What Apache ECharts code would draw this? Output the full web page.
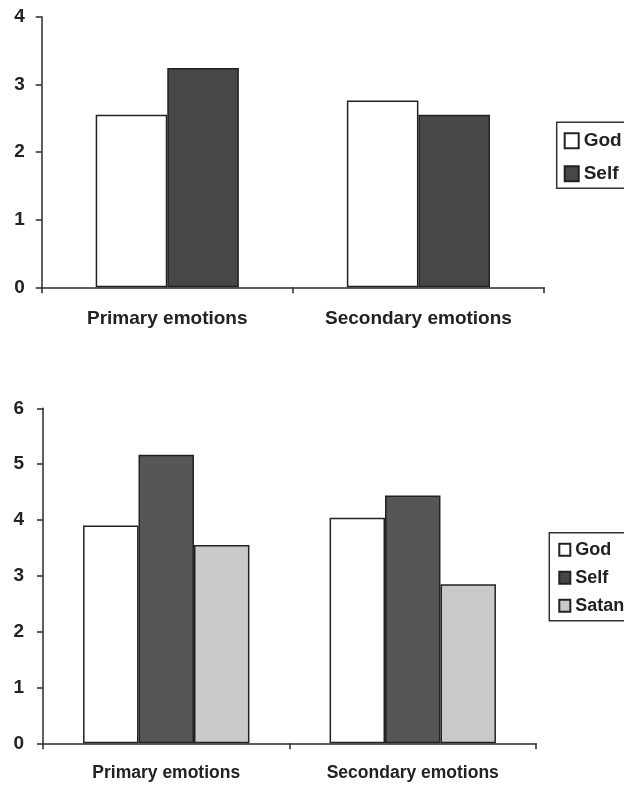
<!DOCTYPE html>
<html>
<head>
<meta charset="utf-8">
<script src="https://cdn.jsdelivr.net/npm/echarts@6/dist/echarts.min.js"></script>
<style>html,body{margin:0;padding:0;background:#fff}#c{width:624px;height:785px}</style>
</head>
<body>
<div id="c"></div>
<script>
const categories = ['Primary emotions', 'Secondary emotions'];
const topTicks = [0, 1, 2, 3, 4];
const bottomTicks = [0, 1, 2, 3, 4, 5, 6];
const topGod = [2.55, 2.76];
const topSelf = [3.24, 2.55];
const bottomGod = [3.90, 4.04];
const bottomSelf = [5.17, 4.44];
const bottomSatan = [3.55, 2.85];

const FONT = '"Liberation Sans", Arial, sans-serif';
const AX = '#2a2a2a';
const BORDER = '#222';

function xAxis(gridIndex, fontSize, margin) {
  return {
    type: 'category', gridIndex, data: categories,
    axisLine: {lineStyle: {color: AX, width: 1.5}},
    axisTick: {show: true, length: 6, lineStyle: {color: AX, width: 1.5}},
    axisLabel: {fontFamily: FONT, fontWeight: 'bold', fontSize, color: '#222', margin}
  };
}
function yAxis(gridIndex, ticks, margin) {
  return {
    type: 'value', gridIndex, min: ticks[0], max: ticks[ticks.length - 1], interval: 1,
    axisLine: {show: true, lineStyle: {color: AX, width: 1.5}},
    axisTick: {show: true, length: 6, lineStyle: {color: AX, width: 1.5}},
    splitLine: {show: false},
    axisLabel: {fontFamily: FONT, fontWeight: 'bold', fontSize: 19, color: '#222', margin}
  };
}
function bar(name, data, color, idx, gap) {
  return {
    name, type: 'bar', data, xAxisIndex: idx, yAxisIndex: idx,
    barGap: '0%', barCategoryGap: gap,
    itemStyle: {color, borderColor: BORDER, borderWidth: 1.5},
    emphasis: {disabled: true}
  };
}

const chart = echarts.init(document.getElementById('c'), null, {renderer: 'canvas'});
chart.setOption({
  animation: false,
  grid: [
    {left: 41.7, right: 80, top: 16.7, height: 270.6},
    {left: 43, right: 88, top: 408.3, height: 335}
  ],
  xAxis: [xAxis(0, 19, 22), xAxis(1, 17.5, 21)],
  yAxis: [yAxis(0, topTicks, 17), yAxis(1, bottomTicks, 19)],
  legend: [
    {
      orient: 'vertical', left: 556.7, top: 122.3,
      data: ['God', 'Self'], icon: 'rect',
      itemWidth: 14, itemHeight: 15, itemGap: 14,
      padding: [9, 12, 5, 7],
      borderColor: '#333', borderWidth: 1.5,
      textStyle: {fontFamily: FONT, fontWeight: 'bold', fontSize: 19, color: '#222'},
      selectedMode: false
    },
    {
      orient: 'vertical', left: 549.3, top: 532.7,
      data: ['God', 'Self', 'Satan'], icon: 'rect',
      itemWidth: 11, itemHeight: 12, itemGap: 10,
      padding: [8, 12, 6, 9],
      borderColor: '#333', borderWidth: 1.5,
      textStyle: {fontFamily: FONT, fontWeight: 'bold', fontSize: 18, color: '#222'},
      selectedMode: false
    }
  ],
  series: [
    bar('God', topGod, '#ffffff', 0, '43%'),
    bar('Self', topSelf, '#464748', 0, '43%'),
    bar('God', bottomGod, '#ffffff', 1, '32.5%'),
    bar('Self', bottomSelf, '#555658', 1, '32.5%'),
    bar('Satan', bottomSatan, '#c8c9ca', 1, '32.5%')
  ]
});
</script>
</body>
</html>
